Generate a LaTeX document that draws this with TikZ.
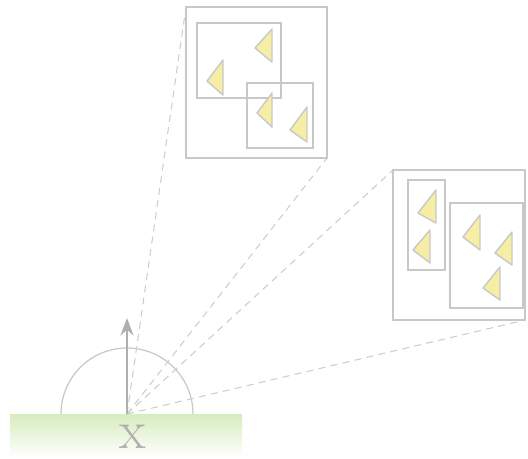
\documentclass[tikz,border=0pt]{standalone}
\usepackage{tikz}
\usetikzlibrary{arrows.meta}
\definecolor{framegray}{RGB}{200,200,200}
\definecolor{raygray}{RGB}{205,205,205}
\definecolor{tipgray}{RGB}{175,175,175}
\definecolor{patchyellow}{RGB}{247,238,165}
\definecolor{groundgreen}{RGB}{214,236,190}
\tikzset{
  frame/.style={draw=framegray, line width=1.1pt},
  ray/.style={draw=raygray, dashed, line width=0.6pt, dash pattern=on 4pt off 3pt},
  patch/.style={draw=framegray, fill=patchyellow, line width=0.8pt, line join=round},
  normal/.style={-{Stealth[length=3.5mm,width=2.6mm]}, draw=tipgray, fill=tipgray, line width=1.1pt},
}

\begin{document}
\begin{tikzpicture}[x=0.02cm, y=-0.02cm]
\useasboundingbox (0,0) rectangle (528,458);

% ground patch and the point on it
\shade[top color=groundgreen, bottom color=white] (10,414) rectangle (242,457);
\coordinate (o) at (127,414);
\node[text=tipgray, font=\fontsize{31}{31}\selectfont] (lbl) at (133,437) {x};

% hemisphere above the point (y runs downward here)
\draw[framegray, line width=0.7pt] (61,414) arc[start angle=180, end angle=360, radius=66];

% the two views
\coordinate (v1nw) at (186,7);
\coordinate (v1se) at (327,158);
\coordinate (v2nw) at (393,170);
\coordinate (v2se) at (525,320);

\draw[ray] (o) -- (v1nw);
\draw[ray] (o) -- (v1se);
\draw[ray] (o) -- (v2nw);
\draw[ray] (o) -- (v2se);

\draw[normal] (o) -- (127,318);

\filldraw[white, frame] (v1nw) rectangle (v1se);
\draw[frame] (197,23) rectangle (281,98);
\draw[frame] (247,83) rectangle (313,148);

\filldraw[white, frame] (v2nw) rectangle (v2se);
\draw[frame] (408,180) rectangle (445,270);
\draw[frame] (450,203) rectangle (523,308);

% small oriented patches
\foreach \ax/\ay/\bx/\by/\cx/\cy in {
    255/48/272/29/272/62,
    207/81/223/60/223/95,
    257/113/272/93/272/127,
    290/130/307/107/307/142,
    418/213/436/190/436/223,
    413/250/430/230/430/263,
    463/237/480/215/480/250,
    495/253/512/232/512/265,
    483/288/500/267/500/300}
  \draw[patch] (\ax,\ay) -- (\bx,\by) -- (\cx,\cy) -- cycle;

\end{tikzpicture}
\end{document}
